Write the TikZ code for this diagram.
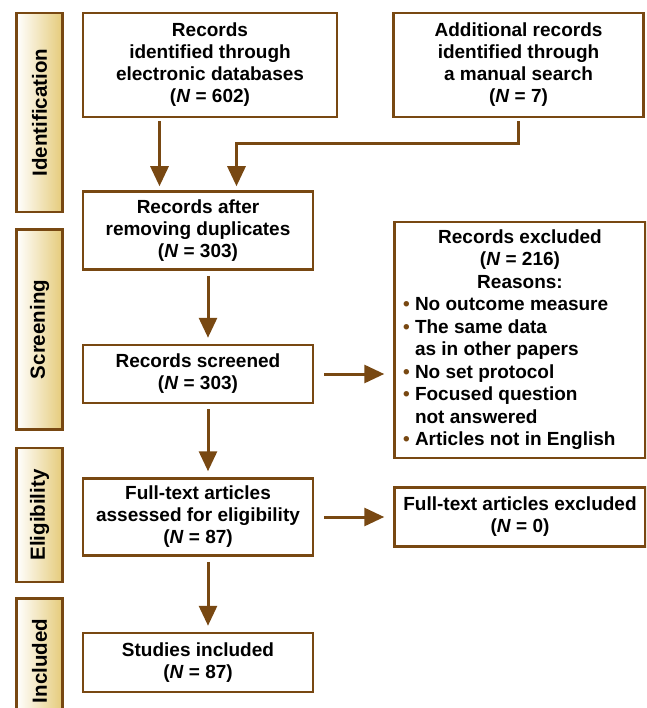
\documentclass[tikz,border=0pt]{standalone}
\usepackage{fontspec}
\setmainfont{Liberation Sans}
\usepackage{array}
\usepackage{tikz}
\usetikzlibrary{arrows.meta}
\usetikzlibrary{positioning}

\definecolor{linebrown}{RGB}{120,72,18}
\definecolor{phasegold}{RGB}{229,203,122}

\newcommand{\exclbullet}{\textcolor{linebrown}{\char"2022}}

\begin{document}
\begin{tikzpicture}

\tikzstyle{box}=[draw=linebrown, line width=2.5pt, fill=white, align=center, inner sep=0pt, font=\fontsize{19}{22}\selectfont\bfseries]
\tikzstyle{phase}=[draw=linebrown, line width=2.5pt, left color=white, right color=phasegold, minimum width=46pt, inner sep=0pt]
\tikzstyle{phase_label}=[rotate=90, font=\fontsize{20.5}{22}\selectfont\bfseries]
\tikzstyle{line}=[draw, line width=3pt, linebrown, -{Triangle[width=18pt,length=20pt]}]

\clip (0,0) rectangle (646pt,-708pt);

\node[box, minimum width=254pt, minimum height=104pt] (identified) at (210pt,-65pt) {Records\\identified through\\electronic databases\\(\textit{N} = 602)};
\node[box, minimum width=250pt, minimum height=104pt, right=54pt of identified] (manual) {Additional records\\identified through\\a manual search\\(\textit{N} = 7)};

\node[box, minimum width=230pt, minimum height=78pt, below=72pt of identified.south west, anchor=north west] (duplicates) {Records after\\removing duplicates\\(\textit{N} = 303)};
\node[box, minimum width=230pt, minimum height=58pt, below=73pt of duplicates] (screened) {Records screened\\(\textit{N} = 303)};
\node[box, minimum width=230pt, minimum height=77pt, below=73pt of screened] (assessed) {Full-text articles\\assessed for eligibility\\(\textit{N} = 87)};
\node[box, minimum width=230pt, minimum height=59pt, below=75pt of assessed] (included) {Studies included\\(\textit{N} = 87)};

\node[box, minimum width=251pt, minimum height=236pt, right=79pt of screened, yshift=34pt, font=\fontsize{19}{22.5}\selectfont\bfseries] (excluded) {%
\begin{tabular}{@{}p{12pt}@{}p{222pt}@{}}
\multicolumn{2}{c}{Records excluded}\\
\multicolumn{2}{c}{(\textit{N} = 216)}\\
\multicolumn{2}{c}{Reasons:}\\
\exclbullet & No outcome measure\\
\exclbullet & The same data\\
 & as in other papers\\
\exclbullet & No set protocol\\
\exclbullet & Focused question\\
 & not answered\\
\exclbullet & Articles not in English
\end{tabular}};
\node[box, minimum width=251pt, minimum height=59pt, right=79pt of assessed] (fulltext_excluded) {Full-text articles excluded\\(\textit{N} = 0)};

\node[phase, minimum height=199pt, left=18pt of identified.north west, anchor=north east, label={[phase_label]center:Identification}] (identification_phase) {};
\node[phase, minimum height=200pt, below=15pt of identification_phase, label={[phase_label]center:Screening}] (screening_phase) {};
\node[phase, minimum height=134pt, below=16pt of screening_phase, label={[phase_label]center:Eligibility}] (eligibility_phase) {};
\node[phase, minimum height=125pt, below=14pt of eligibility_phase, label={[phase_label]center:Included}] (included_phase) {};

\coordinate[left=38.5pt of duplicates.north] (duplicates_in_a);
\coordinate[right=38.5pt of duplicates.north] (duplicates_in_b);

\path[line, shorten <=3pt, shorten >=4pt] (identified.south -| duplicates_in_a) -- (duplicates_in_a);
\path[line, shorten <=3pt, shorten >=4pt] (manual.south) -- ++(0,-25pt) -| (duplicates_in_b);

\path[line, shorten <=5pt, shorten >=6pt] ([xshift=10pt]duplicates.south) -- ([xshift=10pt]screened.north);
\path[line, shorten <=5pt, shorten >=6pt] ([xshift=10pt]screened.south) -- ([xshift=10pt]assessed.north);
\path[line, shorten <=5pt, shorten >=6pt] ([xshift=10pt]assessed.south) -- ([xshift=10pt]included.north);

\path[line, shorten <=10pt, shorten >=9pt] (screened.east) -- (screened.east -| excluded.west);
\path[line, shorten <=10pt, shorten >=9pt] (assessed) -- (fulltext_excluded);

\end{tikzpicture}
\end{document}
